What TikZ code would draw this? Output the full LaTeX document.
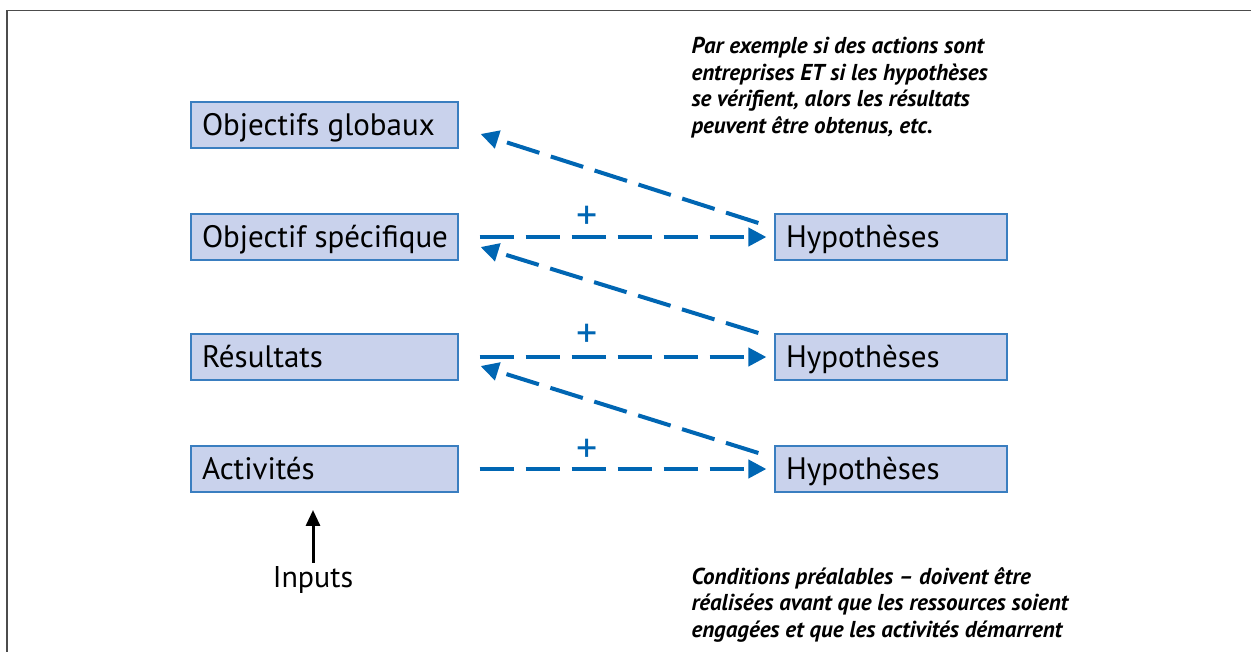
\documentclass[tikz,border=0pt]{standalone}
\usepackage{fontspec}
\setmainfont{PT Sans}
\usetikzlibrary{arrows.meta}
\definecolor{boxfill}{RGB}{201,210,236}
\definecolor{boxline}{RGB}{58,126,192}
\definecolor{arrowblue}{RGB}{0,102,179}
\tikzset{
  basebox/.style={draw=boxline, fill=boxfill, line width=1.2pt, minimum height=46pt,
    inner xsep=11pt, inner ysep=0pt, text height=26pt, text depth=6pt,
    font=\fontsize{31}{34}\selectfont},
  lbox/.style={basebox, minimum width=267pt},
  rbox/.style={basebox, minimum width=232pt},
  darrow/.style={draw=arrowblue, line width=4pt, dash pattern=on 34pt off 12pt,
    -{Triangle[length=18pt,width=18pt]}},
  plussign/.style={text=arrowblue, font=\fontsize{42}{42}\selectfont},
  note/.style={align=left, anchor=north west, font=\fontsize{23}{26.5}\selectfont\bfseries\itshape}
}
\newcommand{\ltxt}[1]{\makebox[245pt][l]{#1}}
\newcommand{\rtxt}[1]{\makebox[210pt][l]{#1}}
\begin{document}
\begin{tikzpicture}[x=1pt,y=-1pt]
\useasboundingbox (0,0) rectangle (1251,651);
\draw[black!70, line width=1.6pt] (7,652) -- (7,10.5) -- (1252,10.5);

\node[lbox] (og) at (324.5,125) {\ltxt{Objectifs globaux}};
\node[lbox] (os) at (324.5,237) {\ltxt{Objectif spécifique}};
\node[lbox] (res) at (324.5,357) {\ltxt{Résultats}};
\node[lbox] (act) at (324.5,469) {\ltxt{Activités}};

\node[rbox] (h1) at (891,237) {\rtxt{Hypothèses}};
\node[rbox] (h2) at (891,357) {\rtxt{Hypothèses}};
\node[rbox] (h3) at (891,469) {\rtxt{Hypothèses}};

% horizontal arrows
\draw[darrow] ([xshift=21pt]os.east) -- ([xshift=-8pt]h1.west);
\draw[darrow] ([xshift=21pt]res.east) -- ([xshift=-8pt]h2.west);
\draw[darrow] ([xshift=21pt]act.east) -- ([xshift=-8pt]h3.west);

% diagonal arrows
\draw[darrow] ([xshift=-16pt,yshift=14pt]h1.west) -- ([xshift=22pt,yshift=-9pt]og.east);
\draw[darrow] ([xshift=-16pt,yshift=24pt]h2.west) -- ([xshift=22pt,yshift=-10pt]os.east);
\draw[darrow] ([xshift=-16pt,yshift=16pt]h3.west) -- ([xshift=22pt,yshift=-9pt]res.east);

% plus signs
\node[plussign] (p1) at (587,218) {+};
\node[plussign] (p2) at (587,336) {+};
\node[plussign] (p3) at (587,451) {+};

% inputs
\node[font=\fontsize{30}{32}\selectfont] (inp) at (313,580) {Inputs};
\draw[black, line width=3pt, -{Triangle[length=16pt,width=14pt]}] ([yshift=0pt]inp.north) -- ([yshift=53pt]inp.north);

% notes
\node[note] (n1) at (688,34) {Par exemple si des actions sont\\entreprises ET si les hypothèses\\se vérifient, alors les résultats\\peuvent être obtenus, etc.};
\node[note] (n2) at (688,564) {Conditions préalables -- doivent être\\réalisées avant que les ressources soient\\engagées et que les activités démarrent};
\end{tikzpicture}
\end{document}
